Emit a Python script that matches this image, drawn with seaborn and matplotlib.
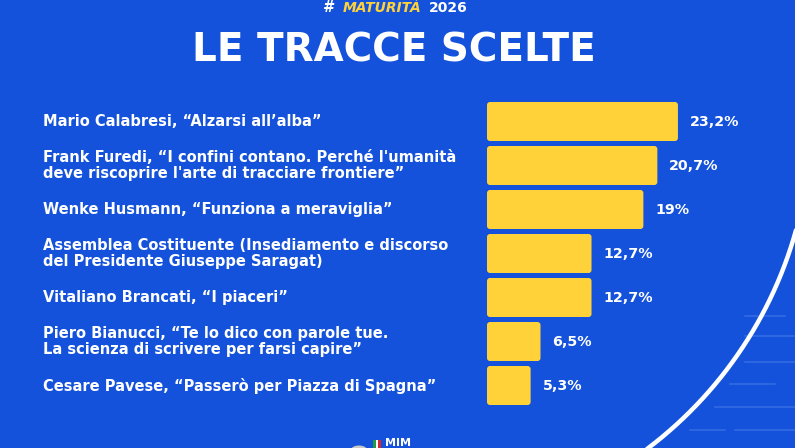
import numpy as np
import pandas as pd
import matplotlib
matplotlib.use("Agg")
import matplotlib.pyplot as plt
import matplotlib.transforms as mtransforms
from matplotlib.lines import Line2D
from matplotlib.patches import Rectangle, Circle, FancyBboxPatch
import seaborn as sns

# ---- data ----
categories = [
    "Mario Calabresi, \u201cAlzarsi all\u2019alba\u201d",
    "Frank Furedi, \u201cI confini contano. Perch\u00e9 l'umanit\u00e0\ndeve riscoprire l'arte di tracciare frontiere\u201d",
    "Wenke Husmann, \u201cFunziona a meraviglia\u201d",
    "Assemblea Costituente (Insediamento e discorso\ndel Presidente Giuseppe Saragat)",
    "Vitaliano Brancati, \u201cI piaceri\u201d",
    "Piero Bianucci, \u201cTe lo dico con parole tue.\nLa scienza di scrivere per farsi capire\u201d",
    "Cesare Pavese, \u201cPasser\u00f2 per Piazza di Spagna\u201d",
]
values = [23.2, 20.7, 19.0, 12.7, 12.7, 6.5, 5.3]
value_labels = ["23,2%", "20,7%", "19%", "12,7%", "12,7%", "6,5%", "5,3%"]
title = "LE TRACCE SCELTE"

BLUE = "#1452DB"
YELLOW = "#FFD23A"
LIGHT = "#4A7FEA"

sns.set_theme(style="white")
plt.rcParams["font.family"] = ["DejaVu Sans"]

W, H = 795, 448
fig = plt.figure(figsize=(W / 100, H / 100), dpi=100, facecolor=BLUE)

# faint decorative streaks + white arc (bottom right)
streaks = [(316, 745, 785), (336, 745, 795), (362, 745, 795), (384, 730, 775),
           (407, 715, 795), (430, 690, 725), (430, 735, 795)]
for yy, x0, x1 in streaks:
    fig.add_artist(Line2D([x0 / W, x1 / W], [1 - yy / H, 1 - yy / H],
                          transform=fig.transFigure, color=LIGHT, lw=1.5, alpha=0.45))
theta = np.linspace(np.radians(5), np.radians(60), 300)
px = 399 + 412 * np.cos(theta)
py = 120 + 412 * np.sin(theta)
fig.add_artist(Line2D(px / W, 1 - py / H, transform=fig.transFigure,
                      color="white", lw=3.2, solid_capstyle="round"))

# bar axes
ax = fig.add_axes([487 / W, 1 - 407.5 / H, (W - 487) / W, (407.5 - 99.5) / H])
df = pd.DataFrame({"traccia": categories, "valore": values})
sns.barplot(data=df, y="traccia", x="valore", orient="h", color=YELLOW,
            saturation=1, width=39 / 44, edgecolor="none", ax=ax)
XPX = 8.23  # pixels per percentage point
ax.set_xlim(0, (W - 487) / XPX)
ax.set_ylim(6.5, -0.5)
ax.set_facecolor("none")
ax.axis("off")

ax.bar_label(ax.containers[0], labels=value_labels, padding=8.6, color="white",
             fontsize=10.3, fontweight="bold")

# round the bar corners slightly
rx = 3 / XPX
ry = 3 / 44
for p in list(ax.containers[0]):
    x, y, w, h = p.get_x(), p.get_y(), p.get_width(), p.get_height()
    p.set_visible(False)
    ax.add_patch(FancyBboxPatch((x, y), w, h,
                                boxstyle=f"round,pad=0,rounding_size={rx}",
                                mutation_aspect=ry / rx, facecolor=YELLOW,
                                edgecolor="none"))

# category labels on the left
trans = mtransforms.blended_transform_factory(fig.transFigure, ax.transData)
for i, lab in enumerate(categories):
    ax.text(43 / W, i, lab, transform=trans, ha="left", va="center",
            color="white", fontsize=10.5, fontweight="bold", linespacing=1.08,
            clip_on=False)

# title
fig.text(393.5 / W, 1 - 50 / H, title, ha="center", va="center", color="white",
         fontsize=28, fontweight="bold")

# hashtag at top
fig.text(322 / W, 1 - 0.5 / H, "#", ha="left", va="top", color="white",
         fontsize=10.5, fontweight="bold", style="italic")
fig.text(343 / W, 1 - 0.5 / H, "MATURIT\u00c0", ha="left", va="top", color=YELLOW,
         fontsize=10, fontweight="bold", style="italic")
fig.text(429 / W, 1 - 0.5 / H, "2026", ha="left", va="top", color="white",
         fontsize=10, fontweight="bold")

# MIM logo at bottom (partially cut)
fig.add_artist(Circle((359 / W, 1 - 450 / H), 8 / W, transform=fig.transFigure,
                      facecolor="#C9C9C9", edgecolor="none"))
for k, c in enumerate(["#1E9B45", "white", "#D62828"]):
    fig.add_artist(Rectangle(((373 + k * 2.5) / W, 0), 2.5 / W, 8 / H,
                             transform=fig.transFigure, facecolor=c, edgecolor="none"))
fig.text(385 / W, 0, "MIM", ha="left", va="bottom", color="white",
         fontsize=8, fontweight="bold")

fig.savefig("out.png", dpi=100, facecolor=BLUE)
